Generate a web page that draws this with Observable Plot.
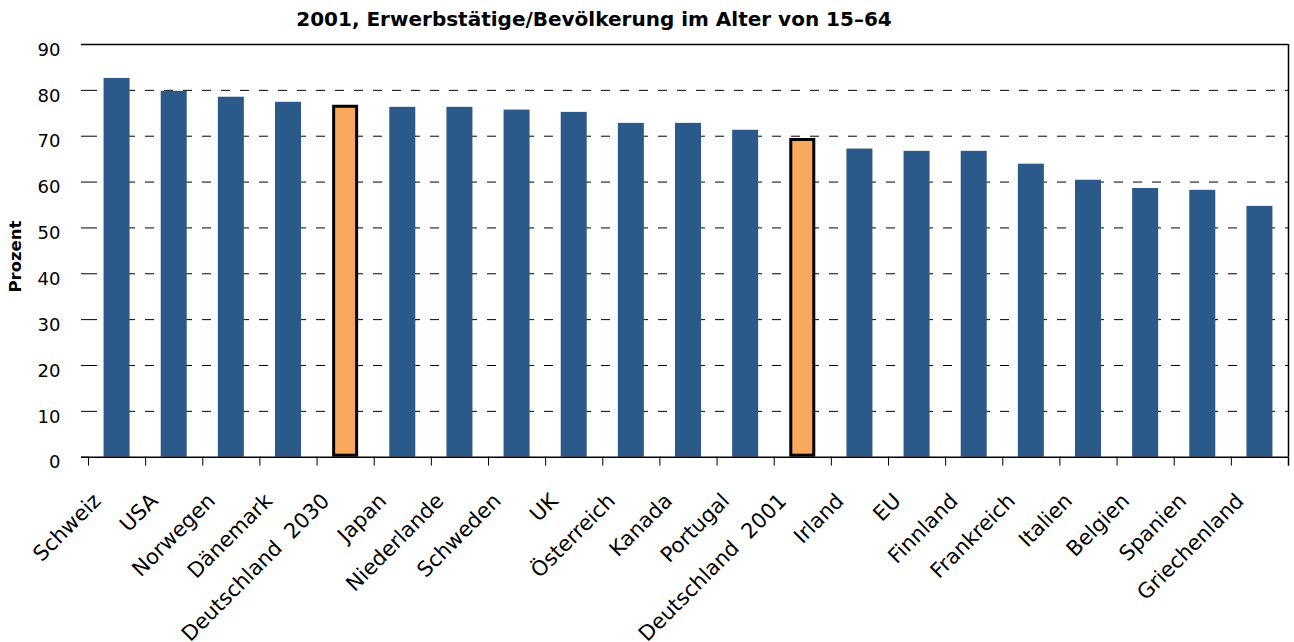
<!DOCTYPE html>
<html>
<head>
<meta charset="utf-8">
<script src="https://cdn.jsdelivr.net/npm/d3@7"></script>
<script src="https://cdn.jsdelivr.net/npm/@observablehq/plot@0.6"></script>
<style>
  html, body { margin: 0; padding: 0; background: #ffffff; }
  #title {
    width: 1188px; height: 40px; box-sizing: border-box; padding-top: 9px;
    text-align: center; font-family: "DejaVu Sans", sans-serif; font-weight: bold;
    font-size: 20px; line-height: 20px; color: #000;
  }
  svg text { white-space: pre; }
</style>
</head>
<body>
<div id="title">2001, Erwerbstätige/Bevölkerung im Alter von 15–64</div>
<div id="chart"></div>
<script>
const categories = ["Schweiz", "USA", "Norwegen", "Dänemark", "Deutschland  2030", "Japan", "Niederlande",
  "Schweden", "UK", "Österreich", "Kanada", "Portugal", "Deutschland  2001", "Irland", "EU", "Finnland",
  "Frankreich", "Italien", "Belgien", "Spanien", "Griechenland"];
const values = [82.6, 79.8, 78.5, 77.4, 76.75, 76.3, 76.3, 75.7, 75.2, 72.8, 72.8, 71.3, 69.5, 67.2, 66.7,
  66.7, 63.9, 60.4, 58.6, 58.2, 54.7];
const highlighted = ["Deutschland  2030", "Deutschland  2001"];
const yTicks = [0, 10, 20, 30, 40, 50, 60, 70, 80, 90];
const yLabel = "Prozent";

const data = categories.map((c, i) => ({name: c, value: values[i]}));
const normal = data.filter(d => !highlighted.includes(d.name));
const special = data.filter(d => highlighted.includes(d.name));

const W = 1294, H = 602, ML = 88, MR = 6, MT = 4, MB = 185.3;
const step = (W - ML - MR) / categories.length;

const chart = Plot.plot({
  width: W, height: H,
  marginLeft: ML, marginRight: MR, marginTop: MT, marginBottom: MB,
  style: {fontFamily: "DejaVu Sans, sans-serif", fontSize: "18px", background: "#ffffff", color: "#000"},
  x: {domain: categories, paddingInner: 0.545, paddingOuter: 0.2725, round: false, axis: null},
  y: {domain: [0, 90], axis: null},
  marks: [
    // dashed grid
    Plot.ruleY(yTicks.filter(v => v > 0 && v < 90), {stroke: "#000", strokeWidth: 1, strokeDasharray: "9,10"}),
    // bars
    Plot.barY(normal, {x: "name", y: "value", fill: "#2B5A8A"}),
    Plot.barY(special, {x: "name", y: "value", fill: "#F8A85C", stroke: "#000", strokeWidth: 3,
      insetLeft: 1.5, insetRight: 1.5, insetTop: 1.5, insetBottom: 1.5}),
    // y ticks
    Plot.axisY({ticks: yTicks, tickSize: 7, tickFormat: () => "", label: null, stroke: "#000"}),
    // y tick labels
    Plot.text(yTicks, {y: d => d, frameAnchor: "left", dx: -28, dy: 5.5, textAnchor: "end",
      fontSize: 18, fill: "#000"}),
    // solid top and bottom lines
    Plot.ruleY([0, 90], {stroke: "#000", strokeWidth: 1.5, insetLeft: -7}),
    // right border
    Plot.ruleX([categories[categories.length - 1]], {x: d => d, dx: step / 2, stroke: "#000", strokeWidth: 1.5}),
    // x ticks at band boundaries
    Plot.ruleX(categories, {x: d => d, dx: -step / 2, y1: () => 0, y2: () => 0, insetBottom: -9,
      stroke: "#000", strokeWidth: 1}),
    Plot.ruleX([categories[categories.length - 1]], {x: d => d, dx: step / 2, y1: () => 0, y2: () => 0,
      insetBottom: -9, stroke: "#000", strokeWidth: 1.5}),
    // x labels
    Plot.text(categories, {x: d => d, frameAnchor: "bottom", dx: -15, dy: 45, rotate: -45,
      textAnchor: "end", lineAnchor: "bottom", fontSize: 21, fill: "#000"}),
    // y label
    Plot.text([yLabel], {frameAnchor: "left", dx: -73, dy: 5.7, rotate: -90, textAnchor: "middle",
      lineAnchor: "middle", fontSize: 16.5, fontWeight: "bold", fill: "#000"})
  ]
});
document.getElementById("chart").appendChild(chart);
</script>
</body>
</html>
